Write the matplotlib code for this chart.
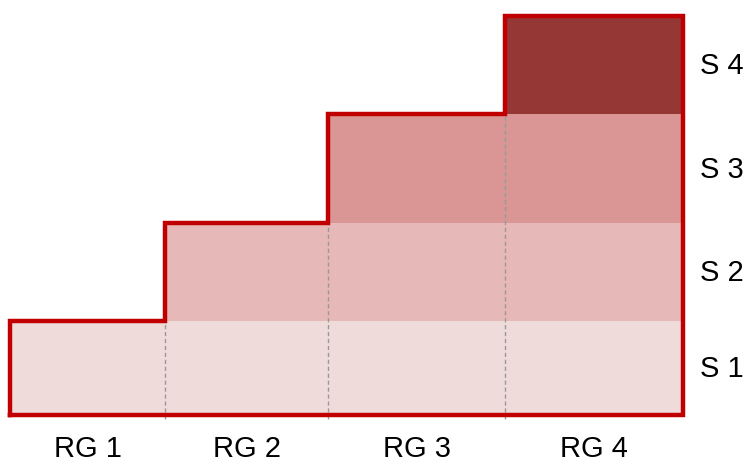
import numpy as np
import matplotlib.pyplot as plt
from matplotlib.patches import Rectangle

# ============================================================
# DATA
# ============================================================
COLUMNS = ["RG 1", "RG 2", "RG 3", "RG 4"]
ROWS = ["S 1", "S 2", "S 3", "S 4"]
COL_WIDTHS = [155, 163, 177, 178]   # relative column widths
ROW_HEIGHTS = [94, 98, 109, 98]     # relative row heights (bottom to top)
STEPS = [1, 2, 3, 4]                # number of filled rows per column

ROW_COLORS = ["#f0dbdb", "#e6b9b8", "#d99694", "#953735"]
OUTLINE = "#c00000"
DASH = "#999999"

plt.rcParams["font.family"] = ["Liberation Sans", "DejaVu Sans"]

# ============================================================
# PLOT
# ============================================================
x_edges = np.concatenate([[0], np.cumsum(COL_WIDTHS)])
y_edges = np.concatenate([[0], np.cumsum(ROW_HEIGHTS)])

fig = plt.figure(figsize=(7.52, 4.64), dpi=100)
ax = fig.add_axes([10 / 752, 48 / 464, 673 / 752, 399 / 464])
ax.set_xlim(x_edges[0], x_edges[-1])
ax.set_ylim(y_edges[0], y_edges[-1])
ax.axis("off")

for ci, n in enumerate(STEPS):
    for ri in range(n):
        ax.add_patch(Rectangle(
            (x_edges[ci], y_edges[ri]),
            COL_WIDTHS[ci], ROW_HEIGHTS[ri],
            facecolor=ROW_COLORS[ri], edgecolor="none", zorder=1,
        ))

# dashed separators between columns
for ci in range(1, len(COLUMNS)):
    top = y_edges[STEPS[ci - 1]]
    ax.plot([x_edges[ci], x_edges[ci]], [-4, top], color=DASH,
            linestyle=(0, (3, 2)), linewidth=1.0, zorder=2, clip_on=False)

# staircase outline
px, py = [x_edges[0]], [y_edges[0]]
for ci, n in enumerate(STEPS):
    px += [x_edges[ci], x_edges[ci + 1]]
    py += [y_edges[n], y_edges[n]]
px += [x_edges[-1], x_edges[0]]
py += [y_edges[0], y_edges[0]]
ax.plot(px, py, color=OUTLINE, linewidth=3.2, solid_joinstyle="miter",
        zorder=3, clip_on=False)

# labels
for ci, lab in enumerate(COLUMNS):
    ax.text((x_edges[ci] + x_edges[ci + 1]) / 2, -33, lab, ha="center",
            va="center", fontsize=21, clip_on=False)
for ri, lab in enumerate(ROWS):
    ax.text(x_edges[-1] + 39, (y_edges[ri] + y_edges[ri + 1]) / 2, lab,
            ha="center", va="center", fontsize=21, clip_on=False)

fig.savefig("out.png", dpi=100)
